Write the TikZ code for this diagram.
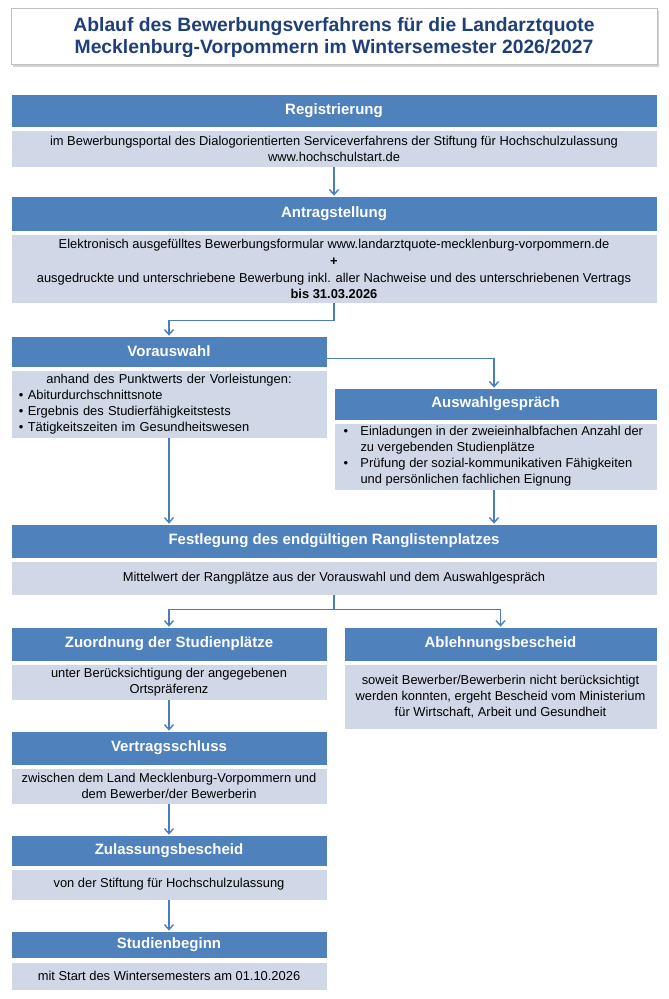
\documentclass[tikz,border=0pt]{standalone}
\usepackage{fontspec}
\setmainfont{Liberation Sans}
\usetikzlibrary{arrows.meta,shadows}
\definecolor{hdrblue}{HTML}{4F81BD}
\definecolor{bodygray}{HTML}{D0D8E8}
\definecolor{titleblue}{HTML}{1F3F78}
\definecolor{arrowblue}{HTML}{4A7EBB}
\tikzset{
  hdr/.style={fill=hdrblue, draw=white, line width=0.8pt, text=white, font=\fontsize{15}{18}\selectfont\bfseries, inner sep=0pt, align=center},
  bodybox/.style={fill=bodygray, draw=white, line width=0.8pt, text=black, font=\fontsize{12.9}{16}\selectfont, inner sep=0pt, align=center},
  flow/.style={draw=arrowblue, line width=1.6pt, -{Straight Barb[length=5pt,width=9pt,line width=1.4pt]}},
  titlebox/.style={fill=white, draw=black!25, line width=0.8pt, drop shadow={shadow xshift=2pt, shadow yshift=-3pt, fill=black!35}, text=titleblue, font=\fontsize{19.3}{22}\selectfont\bfseries, align=center, inner sep=0pt}
}
\begin{document}
\begin{tikzpicture}[x=1pt,y=-1pt]
\useasboundingbox (0,0) rectangle (669,999);
% title
\node[titlebox, minimum width=646pt, minimum height=56pt] (title) at (334,36) {};
\node[text=titleblue, font=\fontsize{19.3}{22}\selectfont\bfseries, align=center, inner sep=0pt] (titletext) at (334,37.5) {Ablauf des Bewerbungsverfahrens für die Landarztquote\\Mecklenburg-Vorpommern im Wintersemester 2026/2027};
% Registrierung
\node[hdr, minimum width=646pt, minimum height=33pt] (regh) at (334,110.5) {Registrierung};
\node[bodybox, minimum width=646pt, minimum height=37pt] (regb) at (334,148.5) {im Bewerbungsportal des Dialogorientierten Serviceverfahrens der Stiftung für Hochschulzulassung\\www.hochschulstart.de};
% Antragstellung
\node[hdr, minimum width=646pt, minimum height=35pt] (anth) at (334,213.5) {Antragstellung};
\node[bodybox, minimum width=646pt, minimum height=69pt] (antb) at (334,268.5) {Elektronisch ausgefülltes Bewerbungsformular www.landarztquote-mecklenburg-vorpommern.de\\[1pt]\textbf{+}\\[1pt]ausgedruckte und unterschriebene Bewerbung inkl. aller Nachweise und des unterschriebenen Vertrags\\\textbf{bis 31.03.2026}};
% Vorauswahl
\node[hdr, minimum width=316pt, minimum height=31pt] (vorh) at (169,351.5) {Vorauswahl};
\node[bodybox, minimum width=316pt, minimum height=68pt, text width=300pt, align=left] (vorb) at (169,404) {\makebox[300pt][c]{anhand des Punktwerts der Vorleistungen:}\\• Abiturdurchschnittsnote\\• Ergebnis des Studierfähigkeitstests\\• Tätigkeitszeiten im Gesundheitswesen};
% Auswahlgespraech
\node[hdr, minimum width=323pt, minimum height=32pt] (aush) at (495.5,404) {Auswahlgespräch};
\node[bodybox, minimum width=323pt, minimum height=67pt, align=left] (ausb) at (495.5,456.5) {\begin{tabular}{@{\hspace{3pt}}p{9pt}@{\hspace{8pt}}p{290pt}@{}}
•&Einladungen in der zweieinhalbfachen Anzahl der\newline zu vergebenden Studienplätze\\
•&Prüfung der sozial-kommunikativen Fähigkeiten\newline und persönlichen fachlichen Eignung
\end{tabular}};
% Festlegung
\node[hdr, minimum width=646pt, minimum height=34pt] (festh) at (334,541) {Festlegung des endgültigen Ranglistenplatzes};
\node[bodybox, minimum width=646pt, minimum height=34pt] (festb) at (334,578) {Mittelwert der Rangplätze aus der Vorauswahl und dem Auswahlgespräch};
% Zuordnung
\node[hdr, minimum width=316pt, minimum height=34pt] (zuh) at (169,644) {Zuordnung der Studienplätze};
\node[bodybox, minimum width=316pt, minimum height=36pt] (zub) at (169,682) {unter Berücksichtigung der angegebenen\\Ortspräferenz};
% Ablehnung
\node[hdr, minimum width=313pt, minimum height=34pt] (ablh) at (500.5,644) {Ablehnungsbescheid};
\node[bodybox, minimum width=313pt, minimum height=65pt] (ablb) at (500.5,696.5) {soweit Bewerber/Bewerberin nicht berücksichtigt\\werden konnten, ergeht Bescheid vom Ministerium\\für Wirtschaft, Arbeit und Gesundheit};
% Vertragsschluss
\node[hdr, minimum width=316pt, minimum height=34pt] (verh) at (169,748) {Vertragsschluss};
\node[bodybox, minimum width=316pt, minimum height=36pt] (verb) at (169,786) {zwischen dem Land Mecklenburg-Vorpommern und\\dem Bewerber/der Bewerberin};
% Zulassungsbescheid
\node[hdr, minimum width=316pt, minimum height=31pt] (zulh) at (169,850.5) {Zulassungsbescheid};
\node[bodybox, minimum width=316pt, minimum height=31pt] (zulb) at (169,884.5) {von der Stiftung für Hochschulzulassung};
% Studienbeginn
\node[hdr, minimum width=316pt, minimum height=27pt] (stuh) at (169,944.5) {Studienbeginn};
\node[bodybox, minimum width=316pt, minimum height=28pt] (stub) at (169,976) {mit Start des Wintersemesters am 01.10.2026};
% connectors
\draw[flow] (regb.south) -- (anth.north);
\draw[flow] (antb.south) -- ++(0,17) -| (vorh.north);
\draw[flow] ([yshift=-7pt]vorh.east) -| ([xshift=-1.5pt]aush.north);
\draw[flow] (vorb.south) -- (vorb.south |- festh.north);
\draw[flow] ([xshift=-1.5pt]ausb.south) -- ([xshift=-1.5pt]ausb.south |- festh.north);
\coordinate (split) at ([yshift=-14pt]festb.south);
\draw[draw=arrowblue, line width=1.6pt] (festb.south) -- (split);
\draw[flow] (split) -| (zuh.north);
\draw[flow] (split) -| (ablh.north);
\draw[flow] (zub.south) -- (verh.north);
\draw[flow] (verb.south) -- (zulh.north);
\draw[flow] (zulb.south) -- (stuh.north);
\end{tikzpicture}
\end{document}
